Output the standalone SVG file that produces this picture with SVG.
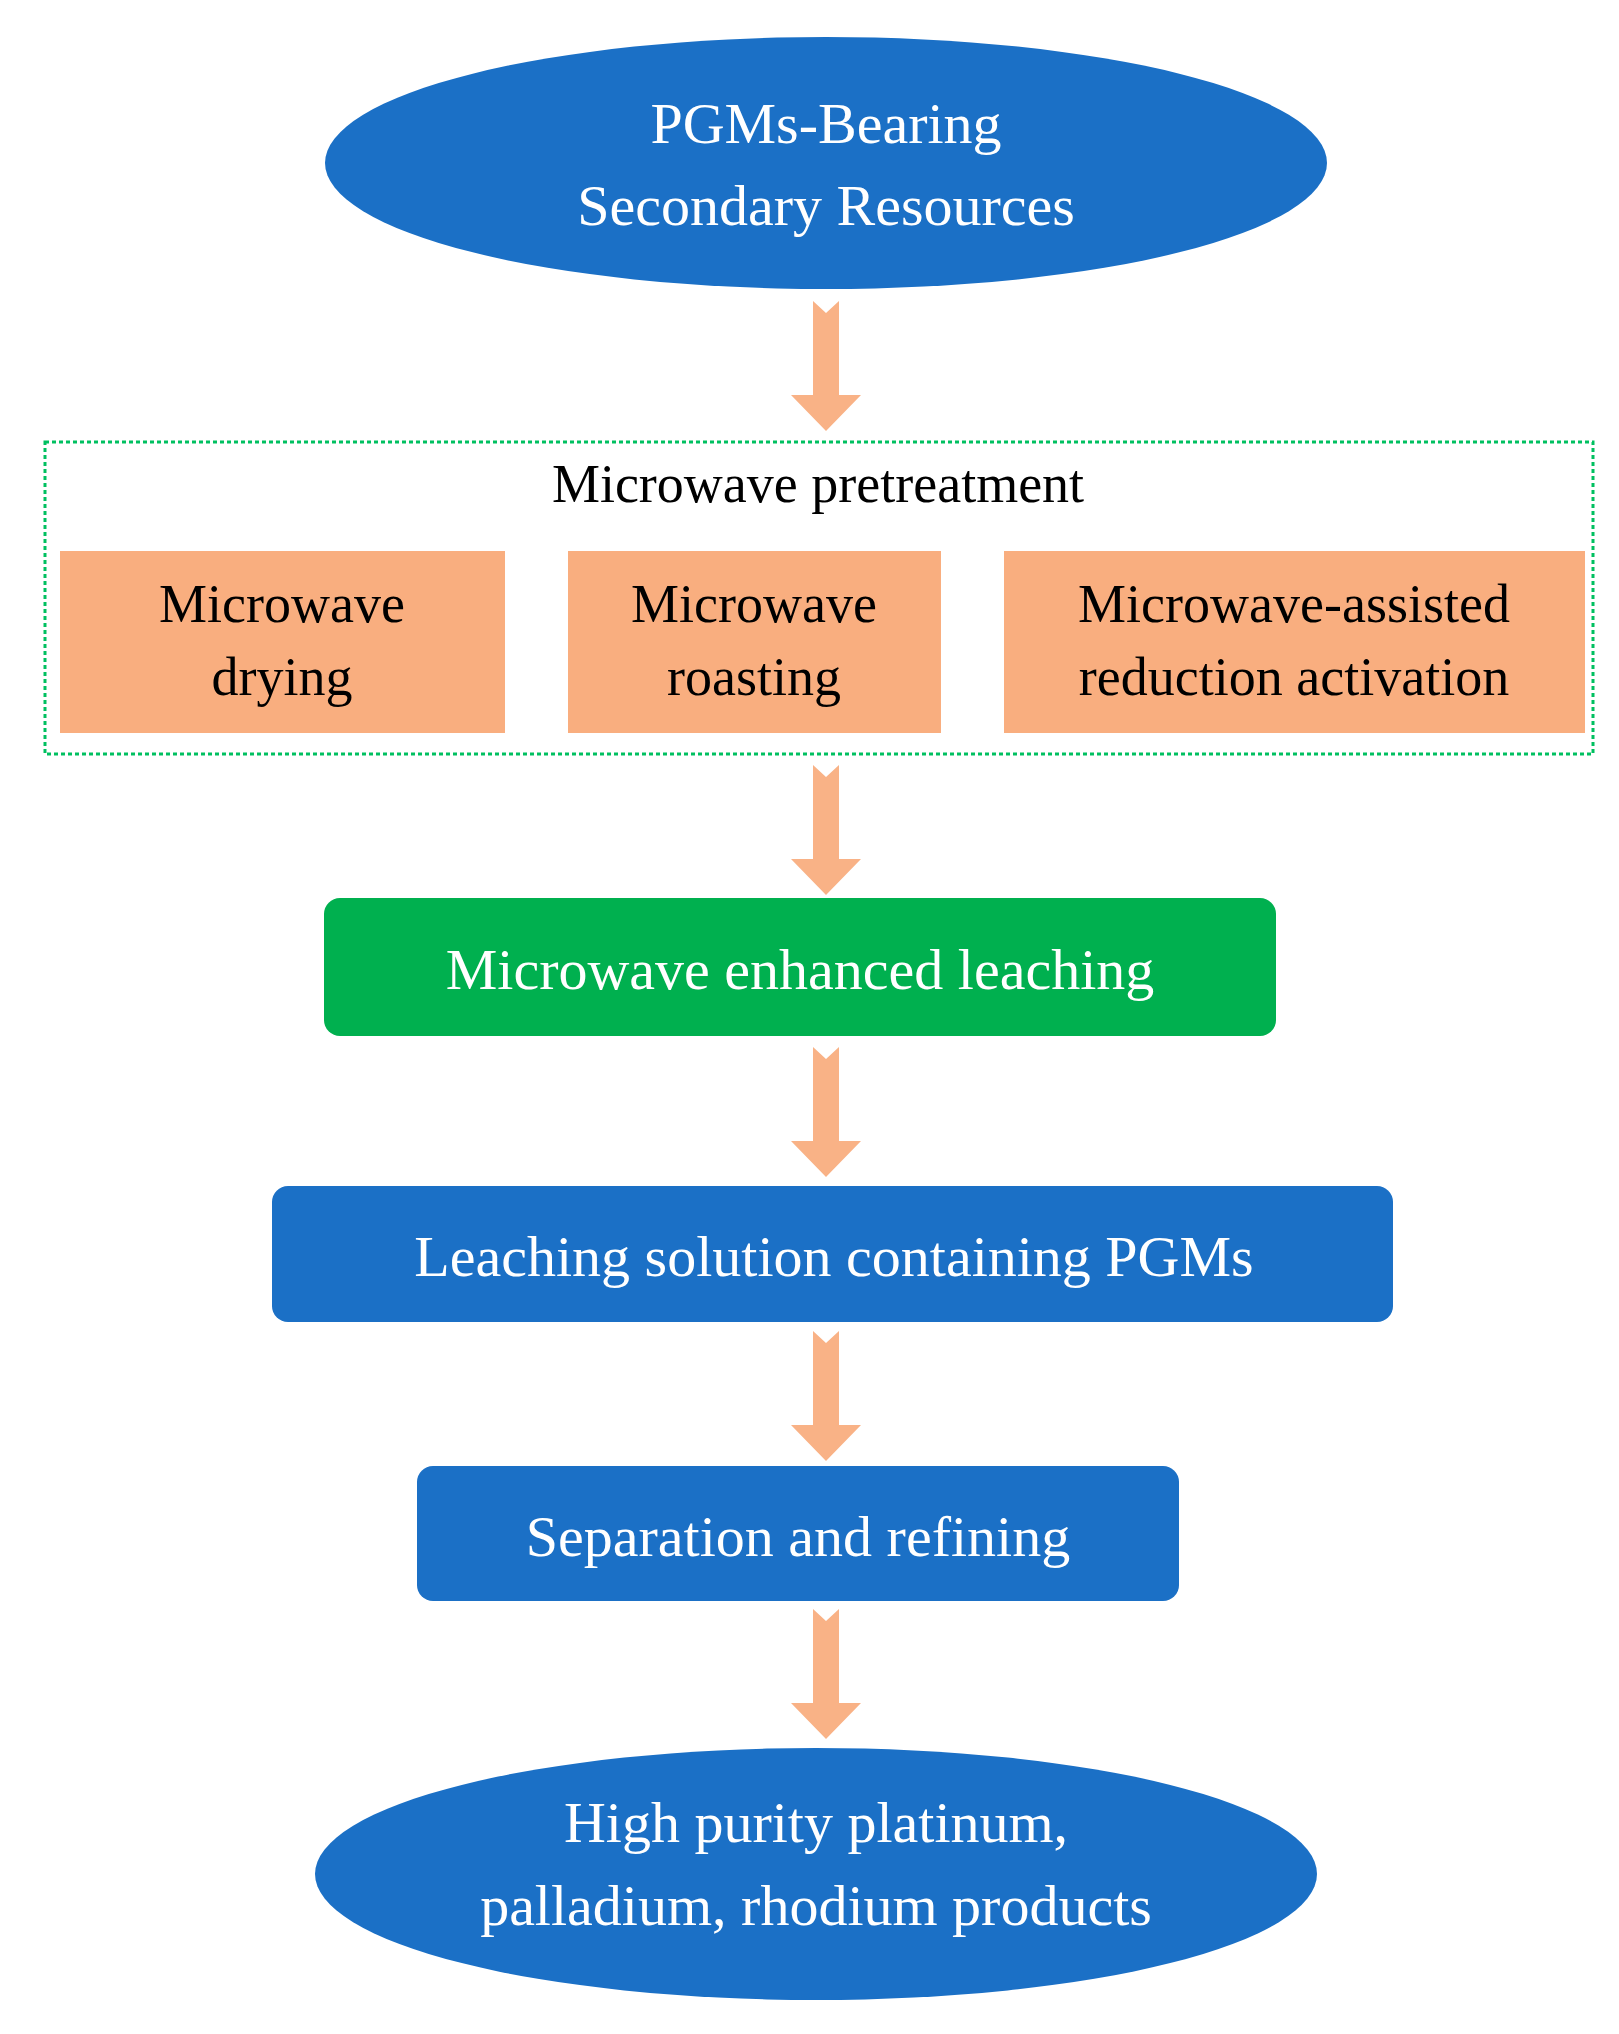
<svg xmlns="http://www.w3.org/2000/svg" width="1619" height="2034" viewBox="0 0 1619 2034">
<defs><style>
.b{fill:#1B70C6}.o{fill:#F9AE7F}
.w{fill:#fff;font-family:"Liberation Serif",serif;font-size:58px;text-anchor:middle}
.k{fill:#000;font-family:"Liberation Serif",serif;font-size:54px;text-anchor:middle}
.ar{fill:#F9B286}
</style>
<path id="arr" d="M-13,0 L0,12 L13,0 L13,94 L35,94 L0,130 L-35,94 L-13,94 Z"/>
</defs>
<rect width="1619" height="2034" fill="#fff"/>
<g id="n1"><ellipse class="b" cx="826" cy="163" rx="501" ry="126"/>
<text class="w" x="826" y="143">PGMs-Bearing</text><text class="w" x="826" y="225">Secondary Resources</text></g>
<g id="n2"><rect x="45" y="442" width="1548" height="312" fill="none" stroke="#00C060" stroke-width="3" stroke-dasharray="4,3"/>
<text class="k" x="818" y="502">Microwave pretreatment</text></g>
<g id="n3"><rect class="o" x="60" y="551" width="445" height="182"/><text class="k" x="282" y="622">Microwave</text><text class="k" x="282" y="695">drying</text></g>
<g id="n4"><rect class="o" x="568" y="551" width="373" height="182"/><text class="k" x="754" y="622">Microwave</text><text class="k" x="754" y="695">roasting</text></g>
<g id="n5"><rect class="o" x="1004" y="551" width="581" height="182"/><text class="k" x="1294" y="622">Microwave-assisted</text><text class="k" x="1294" y="695">reduction activation</text></g>
<g id="n6"><rect x="324" y="898" width="952" height="138" rx="16" fill="#00B04F"/><text class="w" x="800" y="989">Microwave enhanced leaching</text></g>
<g id="n7"><rect class="b" x="272" y="1186" width="1121" height="136" rx="16"/><text class="w" x="834" y="1276">Leaching solution containing PGMs</text></g>
<g id="n8"><rect class="b" x="417" y="1466" width="762" height="135" rx="16"/><text class="w" x="798" y="1556">Separation and refining</text></g>
<g id="n9"><ellipse class="b" cx="816" cy="1874" rx="501" ry="126"/>
<text class="w" x="816" y="1842">High purity platinum,</text><text class="w" x="816" y="1925">palladium, rhodium products</text></g>
<g id="connectors" class="ar">
<use href="#arr" x="826" y="301"/>
<use href="#arr" x="826" y="765"/>
<use href="#arr" x="826" y="1047"/>
<use href="#arr" x="826" y="1331"/>
<use href="#arr" x="826" y="1609"/>
</g>
</svg>
